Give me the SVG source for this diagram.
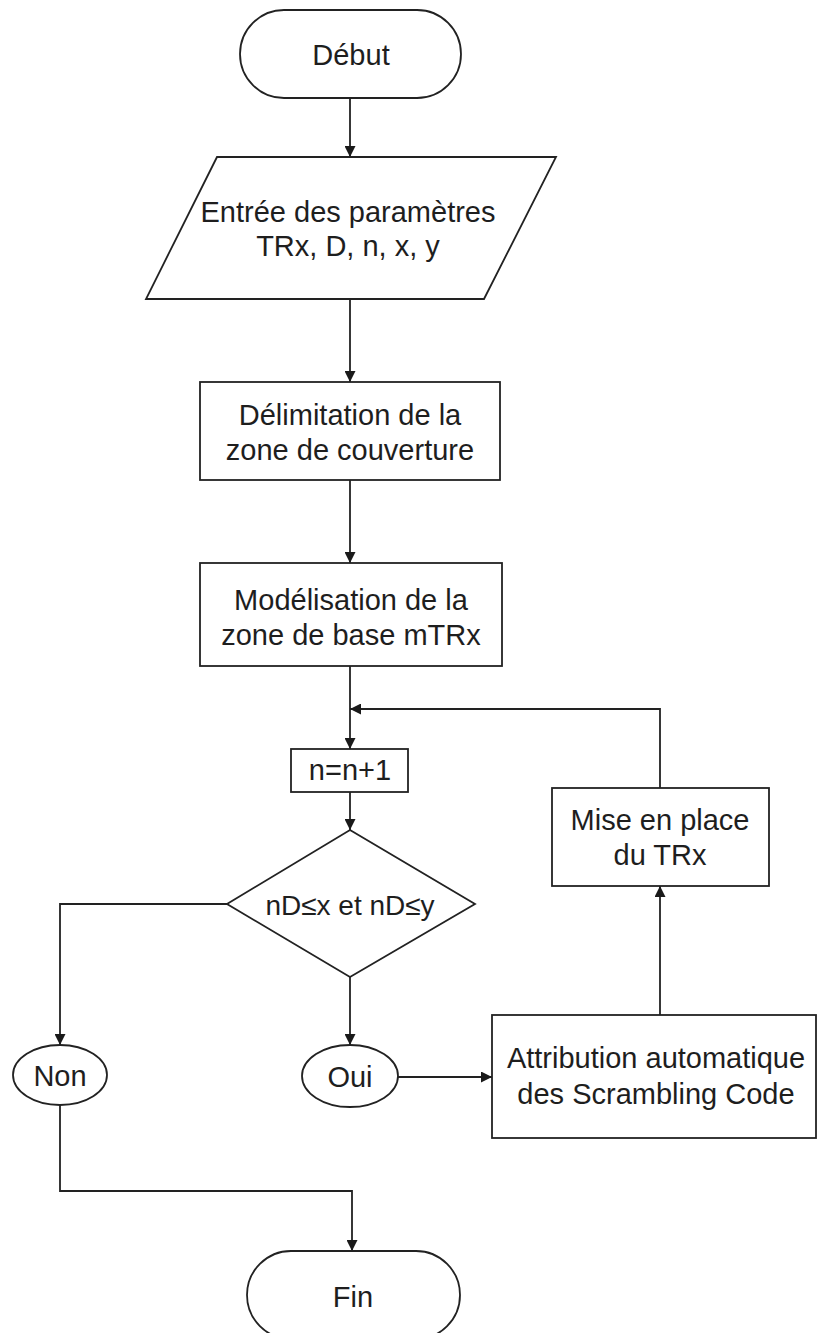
<svg xmlns="http://www.w3.org/2000/svg" width="817" height="1333" viewBox="0 0 817 1333">
  <style>
    .shape { fill: #ffffff; stroke: #222222; stroke-width: 1.8; }
    .label { font-family: "Liberation Sans", Arial, sans-serif; font-size: 29px; fill: #1e1e1e; text-anchor: middle; }
    .cond { font-size: 28px; }
    .wire { fill: none; stroke: #222222; stroke-width: 1.8; }
  </style>
  <defs>
    <marker id="arrow" viewBox="0 0 10 10" refX="10" refY="5" markerWidth="12" markerHeight="11" markerUnits="userSpaceOnUse" orient="auto">
      <path d="M0,0 L10,5 L0,10 z" fill="#1a1a1a"/>
    </marker>
  </defs>

  <rect width="817" height="1333" fill="#ffffff"/>

  <!-- connectors -->
  <g id="connectors">
    <path class="wire" d="M350,98 V157" marker-end="url(#arrow)"/>
    <path class="wire" d="M350,299 V382" marker-end="url(#arrow)"/>
    <path class="wire" d="M350,480 V563" marker-end="url(#arrow)"/>
    <path class="wire" d="M350,666 V749" marker-end="url(#arrow)"/>
    <path class="wire" d="M660,788 V709 H350" marker-end="url(#arrow)"/>
    <path class="wire" d="M350,792 V830" marker-end="url(#arrow)"/>
    <path class="wire" d="M227,904 H60 V1045" marker-end="url(#arrow)"/>
    <path class="wire" d="M350,977 V1045" marker-end="url(#arrow)"/>
    <path class="wire" d="M398,1077 H492" marker-end="url(#arrow)"/>
    <path class="wire" d="M660,1015 V886" marker-end="url(#arrow)"/>
    <path class="wire" d="M60,1105 V1191 H352 V1251" marker-end="url(#arrow)"/>
  </g>

  <!-- start terminal -->
  <g id="debut">
    <rect class="shape" x="240" y="10" width="221" height="88" rx="44" ry="44"/>
    <text class="label" x="351" y="65">Début</text>
  </g>

  <!-- input parameters -->
  <g id="entree">
    <polygon class="shape" points="217,157 556,157 484,299 146,299"/>
    <text class="label" x="348" y="222">Entrée des paramètres</text>
    <text class="label" x="348" y="256">TRx, D, n, x, y</text>
  </g>

  <g id="delimitation">
    <rect class="shape" x="200" y="382" width="300" height="98"/>
    <text class="label" x="350" y="425">Délimitation de la</text>
    <text class="label" x="350" y="460">zone de couverture</text>
  </g>

  <g id="modelisation">
    <rect class="shape" x="200" y="563" width="302" height="103"/>
    <text class="label" x="351" y="610">Modélisation de la</text>
    <text class="label" x="351" y="645">zone de base mTRx</text>
  </g>

  <g id="increment">
    <rect class="shape" x="291" y="749" width="117" height="43"/>
    <text class="label" x="350" y="780">n=n+1</text>
  </g>

  <!-- decision -->
  <g id="decision">
    <polygon class="shape" points="350,830 475,904 350,977 227,904"/>
    <text class="label cond" x="350" y="915">nD≤x et nD≤y</text>
  </g>

  <g id="non">
    <ellipse class="shape" cx="60" cy="1075" rx="47" ry="30"/>
    <text class="label" x="60" y="1086">Non</text>
  </g>

  <g id="oui">
    <ellipse class="shape" cx="350" cy="1076" rx="48" ry="31"/>
    <text class="label" x="350" y="1087">Oui</text>
  </g>

  <g id="attribution">
    <rect class="shape" x="492" y="1015" width="324" height="123"/>
    <text class="label" x="656" y="1068">Attribution automatique</text>
    <text class="label" x="656" y="1104">des Scrambling Code</text>
  </g>

  <g id="mise-en-place">
    <rect class="shape" x="552" y="788" width="217" height="98"/>
    <text class="label" x="660" y="830">Mise en place</text>
    <text class="label" x="660" y="865">du TRx</text>
  </g>

  <!-- end terminal -->
  <g id="fin">
    <rect class="shape" x="247" y="1251" width="213" height="88" rx="44" ry="44"/>
    <text class="label" x="353" y="1307">Fin</text>
  </g>
</svg>
